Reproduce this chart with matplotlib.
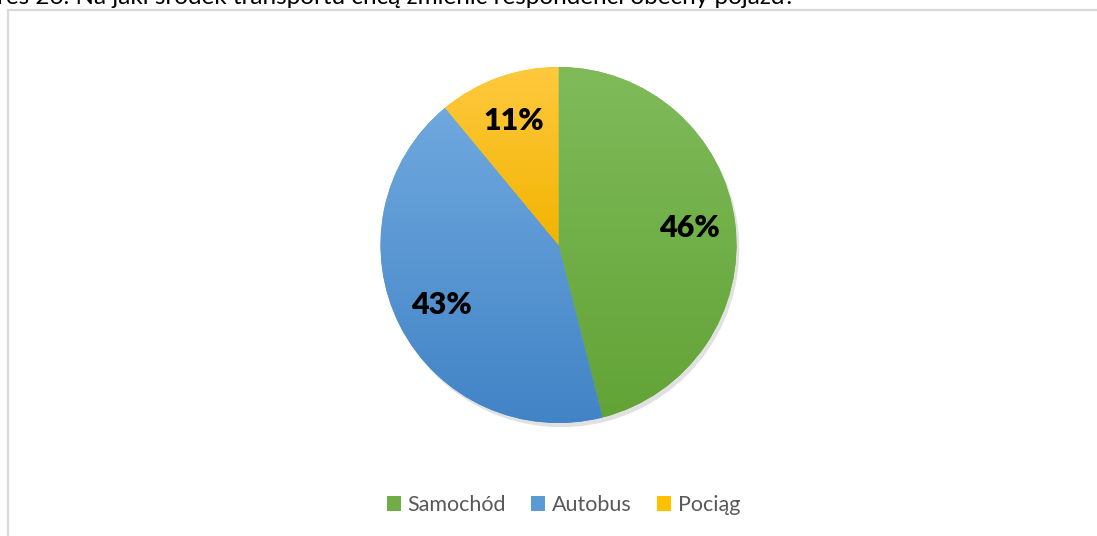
import matplotlib
matplotlib.use("Agg")
import matplotlib.pyplot as plt
import matplotlib.patheffects as pe
from matplotlib.colors import LinearSegmentedColormap
from matplotlib.patches import Patch, Rectangle
import numpy as np

categories = ["Samochód", "Autobus", "Pociąg"]
shares = [46, 43, 11]
# light (top) and dark (bottom) shade for each slice
colors_top = ["#80bb5a", "#6fa8de", "#ffc93f"]
colors_bottom = ["#62a336", "#4183c6", "#f2b400"]
legend_colors = ["#70ad47", "#5b9bd5", "#ffc000"]
title = "Wykres 26. Na jaki środek transportu chcą zmienić respondenci obecny pojazd?"

W, H = 1097, 536
fig = plt.figure(figsize=(W / 100, H / 100), dpi=100)
fig.patch.set_facecolor("white")

# caption above the chart frame, only its lower part is on the page
fig.text(-53 / W, 1 - 4 / H, title, fontsize=17.5, family="Lato",
         color="black", va="baseline", ha="left")

# chart frame (top and left edges visible)
fig.add_artist(Rectangle((7.5 / W, -0.2), 1.2, 1.2 - 9.5 / H,
                         transform=fig.transFigure, fill=False,
                         edgecolor="#d9d9d9", linewidth=1.6))

cx, cy, r = 558.5, 245, 178
half = 200
ax = fig.add_axes([(cx - half) / W, (H - cy - half) / H, 2 * half / W, 2 * half / H])
lim = half / r

wedges, texts, autotexts = ax.pie(
    shares, colors=legend_colors, startangle=90, counterclock=False,
    radius=1, autopct="%1.0f%%", pctdistance=0.74,
    textprops=dict(fontsize=22, fontweight="heavy", family="Lato", color="black"),
    wedgeprops=dict(linewidth=0),
)
for w in wedges:
    w.set_path_effects([pe.SimplePatchShadow(offset=(2, -3), shadow_rgbFace="#888888", alpha=0.25),
                        pe.Normal()])

# vertical gradient inside each slice, light at the top
grad = np.linspace(0, 1, 256).reshape(-1, 1)
for w, ct, cb in zip(wedges, colors_top, colors_bottom):
    verts = w.get_patch_transform().transform(w.get_path().vertices)
    x0, x1 = verts[:, 0].min(), verts[:, 0].max()
    y0, y1 = verts[:, 1].min(), verts[:, 1].max()
    cmap = LinearSegmentedColormap.from_list("g", [ct, cb])
    im = ax.imshow(grad, cmap=cmap, extent=(x0, x1, y0, y1), origin="upper",
                   aspect="auto", zorder=2, interpolation="bilinear")
    im.set_clip_path(w)
for t in autotexts:
    t.set_zorder(3)

ax.set_xlim(-lim, lim)
ax.set_ylim(-lim, lim)
ax.set_aspect("equal")
ax.axis("off")

handles = [Patch(facecolor=c, edgecolor="none") for c in legend_colors]
leg = fig.legend(handles, categories, loc="center", bbox_to_anchor=(563.5 / W, 1 - 505 / H),
                 ncol=3, frameon=False, prop=dict(family="Lato", size=15.5),
                 handlelength=0.65, handleheight=0.65, handletextpad=0.3,
                 columnspacing=1.2, labelcolor="#595959")

fig.savefig("out.png", dpi=100, facecolor="white")
